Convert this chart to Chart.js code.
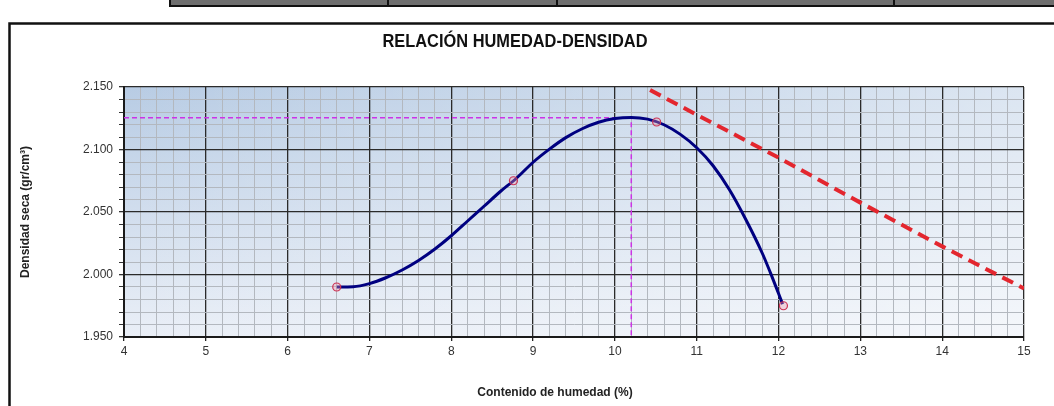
<!DOCTYPE html>
<html><head><meta charset="utf-8">
<script src="https://cdn.jsdelivr.net/npm/chart.js@4.4.1/dist/chart.umd.min.js"></script>
<style>html,body{margin:0;padding:0;background:#fff;}#c{display:block;}</style>
</head><body>
<canvas id="c" width="1054" height="406"></canvas>
<script>
// ---- data ----
const titleText = 'RELACIÓN HUMEDAD-DENSIDAD';
const xTitle = 'Contenido de humedad (%)';
const yTitle = 'Densidad seca (gr/cm³)';
const testX = [6.60, 8.76, 10.51, 12.06];
const testY = [1.990, 2.075, 2.122, 1.975];
const curveX = [6.60, 6.80, 7.00, 7.20, 7.40, 7.60, 7.80, 8.00, 8.20, 8.40, 8.60, 8.80, 9.00, 9.20, 9.40, 9.60, 9.80, 10.00, 10.20, 10.40, 10.60, 10.80, 11.00, 11.20, 11.40, 11.60, 11.80, 11.90, 12.05];
const curveY = [1.9900, 1.9902, 1.9927, 1.9974, 2.0036, 2.0112, 2.0204, 2.0310, 2.0428, 2.0546, 2.0664, 2.0772, 2.0898, 2.1003, 2.1095, 2.1166, 2.1218, 2.1248, 2.1257, 2.1243, 2.1198, 2.1121, 2.1014, 2.0870, 2.0678, 2.0440, 2.0172, 2.0015, 1.9763];
const zavX = [10.43, 11, 12, 13, 14, 15];
const zavY = [2.1476, 2.1278, 2.0935, 2.0575, 2.0225, 1.9888];
const maxDensity = 2.1255;
const optMoisture = 10.2;
const xMin = 4, xMax = 15, xStep = 0.2;
const yMin = 1.95, yMax = 2.15, yStep = 0.01;

const pts = (xs, ys) => xs.map((x, i) => ({x, y: ys[i]}));
const near = (v, m) => Math.abs(v / m - Math.round(v / m)) < 1e-6;

const FONT = "'Liberation Sans', Arial, sans-serif";

const decor = {
  id: 'decor',
  beforeDraw(chart) {
    const ctx = chart.ctx, a = chart.chartArea;
    ctx.save();
    // top strip (partial table above)
    ctx.fillStyle = '#6e6e6e';
    ctx.fillRect(169, 0, 885, 5);
    ctx.fillStyle = '#111';
    ctx.fillRect(169, 5, 885, 2);
    [170, 388, 557, 894].forEach(x => ctx.fillRect(x - 1, 0, 2, 6));
    // outer frame
    ctx.strokeStyle = '#111';
    ctx.lineWidth = 2.5;
    ctx.beginPath();
    ctx.moveTo(9.5, 410); ctx.lineTo(9.5, 23.5); ctx.lineTo(1060, 23.5);
    ctx.stroke();
    // plot background gradient
    const g = ctx.createLinearGradient(0, a.top, 0, a.bottom);
    g.addColorStop(0, '#b8cce4');
    g.addColorStop(1, '#eaeff7');
    ctx.fillStyle = g;
    ctx.fillRect(a.left, a.top, a.right - a.left, a.bottom - a.top);
    const h = ctx.createLinearGradient(a.left, 0, a.right, 0);
    h.addColorStop(0, 'rgba(255,255,255,0)');
    h.addColorStop(1, 'rgba(255,255,255,0.5)');
    ctx.fillStyle = h;
    ctx.fillRect(a.left, a.top, a.right - a.left, a.bottom - a.top);
    ctx.restore();
  },
  afterDraw(chart) {
    const ctx = chart.ctx;
    ctx.save();
    // main title (condensed bold)
    ctx.font = 'bold 19px ' + FONT;
    ctx.fillStyle = '#111';
    ctx.textAlign = 'center';
    ctx.textBaseline = 'alphabetic';
    const w = ctx.measureText(titleText).width;
    ctx.translate(515, 47);
    ctx.scale(265 / w, 1);
    ctx.fillText(titleText, 0, 0);
    ctx.restore();
    ctx.save();
    ctx.font = 'bold 12px ' + FONT;
    ctx.fillStyle = '#222';
    ctx.textAlign = 'center';
    ctx.textBaseline = 'middle';
    ctx.fillText(xTitle, 555, 393);
    ctx.restore();
  }
};

new Chart(document.getElementById('c'), {
  type: 'scatter',
  data: {
    datasets: [
      { label: 'curva', data: pts(curveX, curveY), showLine: true, borderColor: '#000080', borderWidth: 3,
        pointRadius: 0, cubicInterpolationMode: 'monotone', order: 2 },
      { label: 'ensayos', data: pts(testX, testY), showLine: false, pointStyle: 'circle', pointRadius: 4,
        borderColor: '#cc3355', backgroundColor: 'rgba(240,150,165,0.35)', borderWidth: 1.2, order: 1 },
      { label: 'saturacion', data: pts(zavX, zavY), showLine: true, borderColor: '#e3262e', borderWidth: 4,
        borderDash: [12, 7], pointRadius: 0, order: 3 },
      { label: 'optimo', data: [{x: xMin, y: maxDensity}, {x: optMoisture, y: maxDensity}, {x: optMoisture, y: yMin}],
        showLine: true, borderColor: '#cc33e6', borderWidth: 1.5, borderDash: [5, 3], pointRadius: 0, order: 4 }
    ]
  },
  options: {
    responsive: false, animation: false, devicePixelRatio: 1,
    layout: { padding: { left: 0, right: 30, top: 87, bottom: 0 } },
    plugins: {
      legend: { display: false }, tooltip: { enabled: false }, title: { display: false }
    },
    scales: {
      x: {
        type: 'linear', min: xMin, max: xMax,
        afterFit(s) { s.height = 69; },
        border: { display: true, color: '#1a1a1a', width: 2 },
        grid: {
          color: c => near(c.tick.value, 1) ? '#2b2b2b' : '#b3b8bf',
          lineWidth: c => near(c.tick.value, 1) ? 1.3 : 1,
          tickColor: c => near(c.tick.value, 1) ? '#222' : 'rgba(0,0,0,0)',
          tickLength: 4
        },
        ticks: { stepSize: xStep, autoSkip: false, maxRotation: 0, padding: 3, color: '#333',
          font: { family: FONT, size: 12 },
          callback: v => near(v, 1) ? String(Math.round(v)) : '' }
      },
      y: {
        type: 'linear', min: yMin, max: yMax,
        afterFit(s) { s.width = 124; },
        border: { display: true, color: '#1a1a1a', width: 2 },
        grid: {
          color: c => near(c.tick.value, 0.05) ? '#2b2b2b' : '#b3b8bf',
          lineWidth: c => near(c.tick.value, 0.05) ? 1.3 : 1,
          tickColor: '#333',
          tickLength: 5
        },
        ticks: { stepSize: yStep, autoSkip: false, padding: 6, color: '#333',
          font: { family: FONT, size: 12 },
          callback: v => near(v, 0.05) ? v.toFixed(3) : '' },
        title: { display: true, text: yTitle, color: '#222',
          font: { family: FONT, size: 12, weight: 'bold' }, padding: { top: 18.8, bottom: 0 } }
      }
    }
  },
  plugins: [decor]
});
</script>
</body></html>
